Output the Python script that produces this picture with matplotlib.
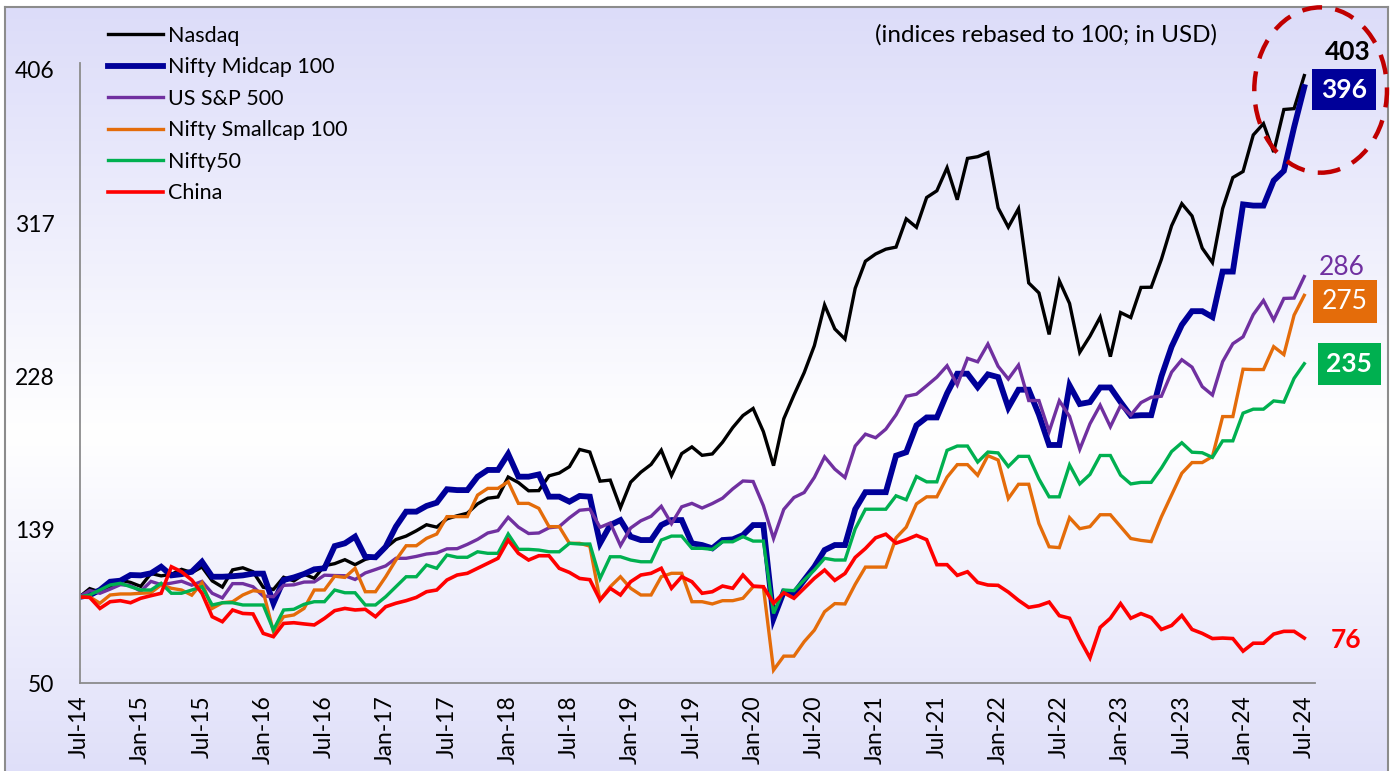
import numpy as np
import matplotlib
matplotlib.use("Agg")
import matplotlib.pyplot as plt
from matplotlib.patches import Ellipse

plt.rcParams['font.family'] = ['Lato', 'DejaVu Sans']

# ---------------- data ----------------
tick_labels = ['Jul-14', 'Jan-15', 'Jul-15', 'Jan-16', 'Jul-16', 'Jan-17', 'Jul-17',
               'Jan-18', 'Jul-18', 'Jan-19', 'Jul-19', 'Jan-20', 'Jul-20', 'Jan-21',
               'Jul-21', 'Jan-22', 'Jul-22', 'Jan-23', 'Jul-23', 'Jan-24', 'Jul-24']
y_ticks = [50, 139, 228, 317, 406]

series_names = ['Nasdaq', 'Nifty Midcap 100', 'US S&P 500', 'Nifty Smallcap 100', 'Nifty50', 'China']

nasdaq = [100, 104.8, 102.8, 106.0, 109.7, 108.4,
          106.1, 113.6, 112.2, 113.1, 116.0, 114.1, 117.4, 109.3, 105.7, 115.7, 116.9, 114.6,
          105.6, 104.3, 111.4, 109.3, 113.2, 110.8, 118.1, 119.3, 121.6, 118.7, 121.8, 123.2,
          128.5, 133.3, 135.3, 138.4, 141.9, 140.5, 145.3, 147.1, 148.6, 154.0, 157.3, 158.0,
          169.6, 166.4, 161.6, 161.7, 170.3, 171.9, 175.6, 185.6, 184.1, 167.2, 167.8, 151.8,
          166.6, 172.4, 176.9, 185.2, 170.5, 183.2, 187.1, 182.2, 183.0, 189.8, 198.3, 205.3,
          209.4, 196.0, 176.2, 203.4, 217.2, 230.2, 245.9, 269.5, 255.6, 249.7, 279.2, 294.9,
          299.1, 301.9, 303.1, 319.5, 314.6, 331.9, 335.8, 349.2, 330.6, 354.6, 355.6, 358.0,
          325.9, 314.7, 325.4, 282.3, 276.5, 252.4, 283.5, 270.4, 242.0, 251.4, 262.4, 239.5,
          265.1, 262.2, 279.7, 279.8, 296.0, 315.5, 328.3, 321.2, 302.5, 294.1, 325.5, 343.5,
          347.0, 368.2, 374.8, 358.3, 383.0, 383.5, 402.7]

midcap = [100, 101, 104, 108.8, 109.4, 112.7, 112.5, 113.7, 117.5, 112.5, 113.2, 114.6, 120.4,
          111.7, 111.7, 112, 112.5, 113.5, 113.5, 96.3, 109.8, 111.3, 113.3, 116, 116.6, 129.5,
          131.1, 135, 123.3, 123, 129.1, 140.8, 149.5, 149.5, 152.8, 154.7, 162.5, 162, 162,
          169.8, 173.7, 173.7, 183, 169.8, 169.8, 171.1, 158.2, 158.2, 155.3, 158.6, 158.2,
          131.1, 141.7, 144.6, 135, 133, 133, 141.7, 144.6, 144.6, 131.1, 130.1, 128.2, 133,
          133.4, 135.9, 141.7, 141.7, 87.5, 103, 102, 109.8, 117.5, 127.2, 130.1,
          130.1, 150.9, 160.8, 160.8, 160.8, 182, 184, 199.6, 204.2, 204.2, 218.2, 229.6, 229.6,
          221.8, 229.2, 227.6, 209.9, 220.3, 220.3, 205.8, 188.2, 188.2, 222.8,
          212, 213.1, 221.6, 221.6, 213.1, 205.1, 205.5, 205.5, 228, 245.3, 257.9, 265.9, 265.9,
          262.5, 288.9, 288.9, 327.9, 327.2, 327.2, 341.7, 347.4, 372.7, 396]

sp500 = [100, 103.7, 102.1, 104.5, 107.1, 106.6,
         103.3, 109.0, 107.1, 108.0, 109.1, 106.8, 109.0, 102.1, 99.4, 107.7, 107.7, 105.9,
         100.5, 100.1, 106.7, 107.0, 108.6, 108.7, 112.6, 112.4, 112.3, 110.1, 113.9, 115.9,
         118.0, 122.4, 122.4, 123.5, 124.9, 125.5, 127.9, 128.0, 130.5, 133.4, 137.1, 138.5,
         146.2, 140.5, 136.8, 137.1, 140.1, 140.8, 145.9, 150.3, 150.9, 140.4, 142.9, 129.8,
         140.0, 144.2, 146.8, 152.6, 142.5, 152.3, 154.3, 151.6, 154.2, 157.3, 162.7, 167.3,
         167.0, 153.0, 133.9, 150.8, 157.7, 160.6, 169.4, 181.3, 174.2, 169.3, 187.6, 194.5,
         192.4, 197.4, 205.7, 216.5, 217.7, 222.6, 227.6, 234.2, 223.1, 238.5, 236.5, 246.8,
         233.9, 226.5, 234.6, 214.0, 214.0, 196.0, 213.9, 204.8, 185.7, 200.5, 211.3, 198.8,
         211.1, 205.6, 212.8, 215.9, 216.5, 230.5, 237.7, 233.4, 222.1, 217.2, 236.6, 247.0,
         251.0, 263.9, 272.1, 260.8, 273.3, 273.5, 286.0]

smallcap = [100, 100, 96.3, 101.1, 101.7, 101.7, 102.1, 102.4, 107, 105, 104, 101, 108.2,
            93.3, 96.6, 97.2, 101.1, 103.6, 103, 79.8, 88.5, 89.5, 93.3, 104, 104, 112,
            111.3, 116.6, 103, 103, 111.7, 121.4, 129.7, 129.7, 134, 136.5, 146.6, 146.6, 146.6,
            159.1, 163, 163, 166.9, 154.3, 154.3, 151.4, 140.8, 140.8, 131.1, 131.1, 129.5,
            98.2, 105.9, 111.7, 105, 101.1, 101.1, 111.7, 113.7, 113.7, 97.2, 97.2, 95.9, 97.8,
            97.8, 99.2, 105.9, 105.9, 57.5, 65.6, 65.6, 74, 80.7, 91.4, 96.1,
            95.9, 107.3, 117.3, 117.3, 117.3, 134.3, 140.5, 154, 158.1, 158.1, 169.5, 176.8, 176.8,
            170.6, 182, 179.5, 157.1, 165.4, 165.4, 142.6, 129.1, 128.6, 146,
            139.6, 140.8, 147.7, 147.7, 140.8, 133.9, 132.8, 132.1, 146.5, 159.2, 171.8, 178, 178,
            181.5, 204.7, 204.7, 232.2, 232, 232, 245.3, 240.7, 263.6, 275.1]

nifty50 = [100, 101.1, 104, 106.9, 107.9, 105.9, 104, 104, 107.9, 102.1, 102.1, 104, 105.9,
           95.3, 96.6, 96.6, 95.3, 95.3, 95.3, 80.8, 92.4, 92.8, 95.7, 97.2, 97.2, 104,
           102.4, 102.4, 95.3, 95.3, 100.1, 105.9, 111.7, 111.7, 118.5, 116.6, 124.3, 123, 123,
           126.2, 125.3, 125.3, 136.5, 127.6, 127.6, 127.2, 126.2, 126.2, 131.1, 130.7, 130.7,
           110.7, 123.3, 123.3, 121.4, 120.4, 120.4, 133, 135.3, 135.3, 128.2, 128.2, 127.6, 132,
           132, 135, 132.4, 132.4, 90.4, 104, 103.6, 109.8, 115.6, 122.4, 121.4,
           121.4, 139.5, 150.9, 150.9, 150.9, 158.7, 156.4, 169.9, 166.8, 166.8, 185.1, 187.6, 187.6,
           178.3, 184.1, 183.6, 175.7, 181.6, 181.6, 168.5, 158.1, 158.1, 176.6,
           165.6, 171.1, 182.1, 182.1, 170.7, 165.6, 166.5, 166.5, 174.8, 184.4, 189.5, 184, 183.7,
           181, 190.6, 190.6, 206.7, 209, 209, 213.8, 213.1, 226.9, 235.4]

china = [100, 99.7, 93.3, 97.2, 97.8, 96.6, 99.2, 100.7, 102.1, 117.5, 114.6, 109.8, 102.1,
         88.5, 85.6, 92.4, 90.4, 90.1, 78.8, 76.9, 84.6, 85, 84.3, 83.7, 87.5, 92,
         93.3, 92.4, 92.8, 88.5, 94.3, 96.3, 97.8, 99.7, 103, 104, 109.8, 112.7, 113.7,
         116.6, 119.5, 122.4, 133, 125.3, 121.4, 123.9, 123.9, 116.6, 114.2, 110.7, 110,
         98.2, 105, 101.1, 108.8, 112.7, 113.7, 116.6, 105, 111.7, 108.8, 102.1, 103, 106.3,
         105, 112.7, 106.3, 105.9, 96.3, 102.4, 99.2, 105, 110.8, 115.6, 109.6,
         113.6, 122.9, 128.1, 134.3, 136.4, 131.2, 133.2, 135.7, 133.2, 118.7, 118.7, 112.5, 114.6,
         108.4, 106.9, 106.7, 102.8, 98, 93.9, 94.9, 97, 89.1, 87.6,
         75.4, 64.6, 82.3, 87.6, 96.1, 87.6, 90.3, 88, 81.1, 83.4, 89.2, 81.1, 78.8,
         75.8, 76.1, 75.8, 68.5, 73.1, 73.1, 78.4, 80, 80, 76.1]

end_labels = ['403', '396', '286', '275', '235', '76']

# ---------------- style ----------------
colors = ['#000000', '#000099', '#7030A0', '#E46C0A', '#00B050', '#FF0000']
widths = [2.4, 4.2, 2.4, 2.4, 2.4, 2.6]

W, H = 1394, 771
fig = plt.figure(figsize=(W / 100, H / 100), dpi=100)
fig.patch.set_facecolor('white')

# background panel with vertical gradient
bg = fig.add_axes([5 / W, -0.02, 1383 / W, 1 - 7 / H + 0.02], zorder=0)
t = np.linspace(0, 1, 400)[:, None]
top_c = np.array([220, 220, 249]) / 255
mid_c = np.array([255, 255, 255]) / 255
bot_c = np.array([222, 222, 249]) / 255
split = 0.55
grad = np.where(t < split, top_c + (mid_c - top_c) * (t / split),
                mid_c + (bot_c - mid_c) * ((t - split) / (1 - split)))
bg.imshow(grad[:, None, :], aspect='auto', extent=[0, 1, 0, 1], interpolation='bilinear')
bg.set_xticks([])
bg.set_yticks([])
for s in bg.spines.values():
    s.set_edgecolor('#8C8C8C')
    s.set_linewidth(1.5)

ax = fig.add_axes([79.5 / W, (H - 683) / H, 1235 / W, (683 - 63) / H], zorder=1)
ax.patch.set_alpha(0)

x = np.arange(len(nasdaq))
all_series = [nasdaq, midcap, sp500, smallcap, nifty50, china]
for name, vals, c, lw in zip(series_names, all_series, colors, widths):
    ax.plot(x, vals, color=c, lw=lw, label=name, solid_joinstyle='miter')

ax.set_xlim(0, 121)
ax.set_ylim(50, 410)
ax.set_yticks(y_ticks)
ax.set_yticklabels([str(v) for v in y_ticks], fontsize=16.5)
ax.set_xticks(np.arange(0, 121, 6))
ax.set_xticklabels(tick_labels, rotation=90, fontsize=16.5)
ax.tick_params(axis='y', length=0, pad=18)
ax.tick_params(axis='x', length=0, pad=9)
for side in ['top', 'right']:
    ax.spines[side].set_visible(False)
for side in ['left', 'bottom']:
    ax.spines[side].set_color('#8C8C8C')
    ax.spines[side].set_linewidth(1.3)

leg = fig.legend(loc='upper left', bbox_to_anchor=(108 / W, 1 - 26 / H), frameon=False,
                 fontsize=15.5, handlelength=2.55, handletextpad=0.25, labelspacing=0.53,
                 borderpad=0, borderaxespad=0)

fig.text(875 / W, 1 - 35 / H, '(indices rebased to 100; in USD)', fontsize=17.5,
         ha='left', va='center')

# end-of-line labels
lab_x = 124.3
fs = 19
ax.text(lab_x, 416.5, end_labels[0], color='black', fontsize=fs, fontweight='bold',
        ha='center', va='center', clip_on=False)
ax.text(lab_x - 0.4, 394.5, end_labels[1], color='white', fontsize=fs, fontweight='bold',
        ha='center', va='center', clip_on=False,
        bbox=dict(boxstyle='square,pad=0.33', fc='#000099', ec='none'))
ax.text(lab_x - 0.6, 291, end_labels[2], color='#7030A0', fontsize=fs,
        ha='center', va='center', clip_on=False)
ax.text(lab_x - 0.3, 271.5, end_labels[3], color='white', fontsize=fs,
        ha='center', va='center', clip_on=False,
        bbox=dict(boxstyle='square,pad=0.33', fc='#E46C0A', ec='none'))
ax.text(lab_x + 0.1, 235.2, end_labels[4], color='white', fontsize=fs, fontweight='bold',
        ha='center', va='center', clip_on=False,
        bbox=dict(boxstyle='square,pad=0.33', fc='#00B050', ec='none'))
ax.text(lab_x - 0.2, 75, end_labels[5], color='#FF0000', fontsize=fs, fontweight='bold',
        ha='center', va='center', clip_on=False)

ell = Ellipse((121.6, 394.3), width=13.0, height=96.0, fill=False, edgecolor='#C00000',
              lw=3.2, linestyle=(0, (4.5, 3)), clip_on=False, zorder=5)
ax.add_patch(ell)

fig.savefig('out.png', dpi=100)
